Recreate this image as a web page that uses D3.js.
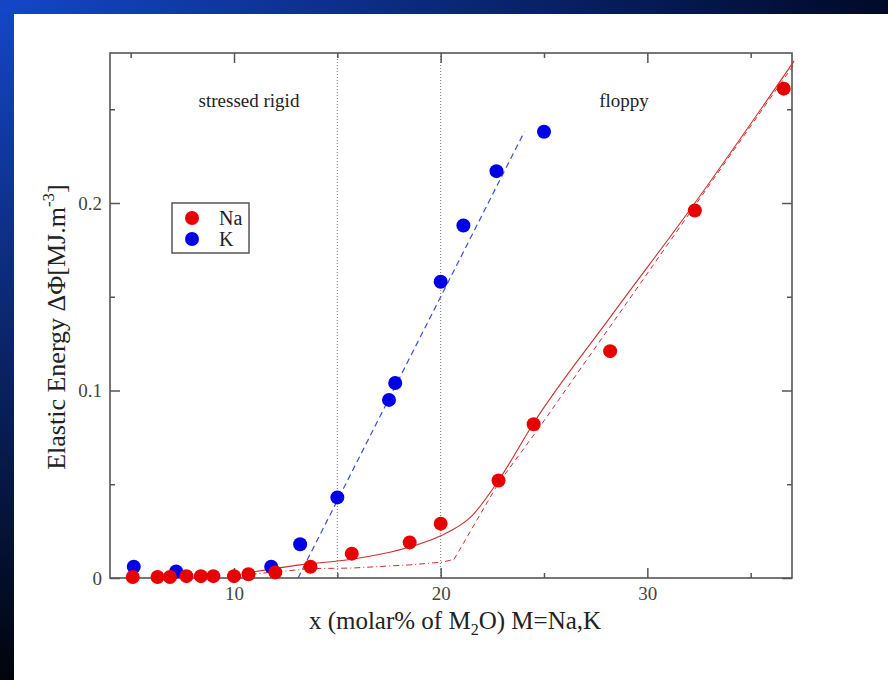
<!DOCTYPE html>
<html><head><meta charset="utf-8">
<script src="https://cdn.jsdelivr.net/npm/d3@7"></script>
<style>html,body{margin:0;padding:0;background:#fff;}svg{display:block;}</style>
</head><body>
<script>
// ---- data ----
const naX = [5.1, 6.3, 6.9, 7.7, 8.4, 9.0, 10.0, 10.7, 12.0, 13.7, 15.7, 18.5, 20.0, 22.8, 24.5, 28.2, 32.3, 36.6];
const naY = [0.0005, 0.0005, 0.0005, 0.001, 0.001, 0.001, 0.001, 0.002, 0.003, 0.006, 0.013, 0.019, 0.029, 0.052, 0.082, 0.121, 0.196, 0.261];
const kX = [5.15, 7.2, 11.8, 13.2, 15.0, 17.5, 17.8, 20.0, 21.1, 22.7, 25.0];
const kY = [0.006, 0.0035, 0.006, 0.018, 0.043, 0.095, 0.104, 0.158, 0.188, 0.217, 0.238];
// fitted curves
const naFitX = [10.8, 13.2, 15.7, 18.5, 20.0, 21.5, 22.8, 24.5, 28.2, 32.3, 37.1];
const naFitY = [0.003, 0.007, 0.010, 0.0165, 0.0225, 0.033, 0.052, 0.0827, 0.139, 0.2, 0.2757];
const naLowX = [10.8, 13.7, 15.7, 18.5, 20.1, 20.65];
const naLowY = [0.002, 0.005, 0.0053, 0.007, 0.0085, 0.010];
const naDashX = [20.65, 22.79, 24.8, 37.1];
const naDashY = [0.010, 0.0505, 0.0807, 0.274];
const kFitX = [13.1, 24.05];
const kFitY = [0.0, 0.238];
const boundaries = [15, 20];
const xTicks = [10, 20, 30];
const xMinor = [5, 15, 25, 35];
const yTicks = [0, 0.1, 0.2];
const yMinor = [0.05, 0.15, 0.25];
const seriesNames = ["Na", "K"];
const seriesColors = ["#e80000", "#0000e8"];

const W = 888, H = 680;
const svg = d3.select("body").append("svg").attr("width", W).attr("height", H);
const defs = svg.append("defs");
const gTop = defs.append("linearGradient").attr("id", "gTop").attr("x1", 0).attr("x2", 1).attr("y1", 0).attr("y2", 0);
gTop.append("stop").attr("offset", 0).attr("stop-color", "#1446c8");
gTop.append("stop").attr("offset", 1).attr("stop-color", "#000a28");
const gLeft = defs.append("linearGradient").attr("id", "gLeft").attr("x1", 0).attr("x2", 0).attr("y1", 0).attr("y2", 1);
gLeft.append("stop").attr("offset", 0).attr("stop-color", "#1446c8");
gLeft.append("stop").attr("offset", 1).attr("stop-color", "#00040c");
svg.append("rect").attr("width", W).attr("height", H).attr("fill", "#fff");
svg.append("rect").attr("x", 0).attr("y", 0).attr("width", 14).attr("height", H).attr("fill", "url(#gLeft)");
svg.append("rect").attr("x", 0).attr("y", 0).attr("width", W).attr("height", 14).attr("fill", "url(#gTop)");

const L = 110, R = 792, T = 53, B = 578;
const x = d3.scaleLinear().domain([4, 37]).range([L, R]);
const y = d3.scaleLinear().domain([0, 0.28]).range([B, T]);
const serif = "'Liberation Serif','DejaVu Serif',serif";
const axisColor = "#555";

// boundary lines
svg.append("g").selectAll("line").data(boundaries).join("line")
  .attr("x1", d => x(d)).attr("x2", d => x(d)).attr("y1", T).attr("y2", B)
  .attr("stroke", "#777").attr("stroke-width", 1).attr("stroke-dasharray", "1,2");

// frame
svg.append("rect").attr("x", L).attr("y", T).attr("width", R - L).attr("height", B - T)
  .attr("fill", "none").attr("stroke", axisColor).attr("stroke-width", 1.6);

// axes with inward ticks
function styleAxis(g) {
  g.select(".domain").remove();
  g.selectAll(".tick line").attr("stroke", axisColor).attr("stroke-width", 1.5);
  g.selectAll(".tick text").attr("fill", "#444").attr("font-family", serif).attr("font-size", 19);
}
svg.append("g").attr("transform", `translate(0,${B})`)
  .call(d3.axisBottom(x).tickValues(xTicks).tickSizeInner(-10).tickPadding(9).tickFormat(d3.format("d"))).call(styleAxis);
svg.append("g").attr("transform", `translate(0,${B})`)
  .call(d3.axisBottom(x).tickValues(xMinor).tickSizeInner(-5).tickFormat("")).call(styleAxis);
svg.append("g").attr("transform", `translate(0,${T})`)
  .call(d3.axisTop(x).tickValues(xTicks).tickSizeInner(-10).tickFormat("")).call(styleAxis);
svg.append("g").attr("transform", `translate(0,${T})`)
  .call(d3.axisTop(x).tickValues(xMinor).tickSizeInner(-5).tickFormat("")).call(styleAxis);
svg.append("g").attr("transform", `translate(${L},0)`)
  .call(d3.axisLeft(y).tickValues(yTicks).tickSizeInner(-10).tickPadding(8).tickFormat(d => d === 0 ? "0" : d3.format(".1f")(d))).call(styleAxis);
svg.append("g").attr("transform", `translate(${L},0)`)
  .call(d3.axisLeft(y).tickValues(yMinor).tickSizeInner(-5).tickFormat("")).call(styleAxis);
svg.append("g").attr("transform", `translate(${R},0)`)
  .call(d3.axisRight(y).tickValues(yTicks).tickSizeInner(-10).tickFormat("")).call(styleAxis);
svg.append("g").attr("transform", `translate(${R},0)`)
  .call(d3.axisRight(y).tickValues(yMinor).tickSizeInner(-5).tickFormat("")).call(styleAxis);

// curves
const line = d3.line().x(d => x(d[0])).y(d => y(d[1]));
const zip = (a, b) => a.map((v, i) => [v, b[i]]);
svg.append("path").datum(zip(kFitX, kFitY)).attr("d", line)
  .attr("fill", "none").attr("stroke", "#3a4fd0").attr("stroke-width", 1.2).attr("stroke-dasharray", "6,4");
svg.append("path").datum(zip(naLowX, naLowY)).attr("d", line)
  .attr("fill", "none").attr("stroke", "#c83030").attr("stroke-width", 1).attr("stroke-dasharray", "6,3,1,3");
svg.append("path").datum(zip(naDashX, naDashY)).attr("d", line)
  .attr("fill", "none").attr("stroke", "#c83030").attr("stroke-width", 1).attr("stroke-dasharray", "5,4");
svg.append("path").datum(zip(naFitX, naFitY)).attr("d", d3.line().x(d => x(d[0])).y(d => y(d[1])).curve(d3.curveMonotoneX))
  .attr("fill", "none").attr("stroke", "#c83030").attr("stroke-width", 1.1);

// points
svg.append("g").selectAll("circle").data(zip(kX, kY)).join("circle")
  .attr("cx", d => x(d[0])).attr("cy", d => y(d[1])).attr("r", 7).attr("fill", seriesColors[1]);
svg.append("g").selectAll("circle").data(zip(naX, naY)).join("circle")
  .attr("cx", d => x(d[0])).attr("cy", d => y(d[1])).attr("r", 7).attr("fill", seriesColors[0]);

// region labels
svg.append("text").attr("x", 249).attr("y", 107).attr("text-anchor", "middle")
  .attr("font-family", serif).attr("font-size", 19).attr("fill", "#222").text("stressed rigid");
svg.append("text").attr("x", 624).attr("y", 107).attr("text-anchor", "middle")
  .attr("font-family", serif).attr("font-size", 19).attr("fill", "#222").text("floppy");

// legend
const lg = svg.append("g");
lg.append("rect").attr("x", 172).attr("y", 203).attr("width", 77).attr("height", 50)
  .attr("fill", "#fff").attr("stroke", axisColor).attr("stroke-width", 1.5);
seriesNames.forEach((n, i) => {
  lg.append("circle").attr("cx", 192).attr("cy", 218 + i * 21).attr("r", 7).attr("fill", seriesColors[i]);
  lg.append("text").attr("x", 219).attr("y", 225 + i * 21).attr("font-family", serif).attr("font-size", 20)
    .attr("fill", "#222").text(n);
});

// axis titles
const xt = svg.append("text").attr("x", 455).attr("y", 629).attr("text-anchor", "middle")
  .attr("font-family", serif).attr("font-size", 25).attr("fill", "#222");
xt.append("tspan").text("x (molar% of M");
xt.append("tspan").attr("font-size", 16).attr("dy", 6).text("2");
xt.append("tspan").attr("dy", -6).text("O) M=Na,K");

const yt = svg.append("text").attr("transform", "translate(65,327) rotate(-90)").attr("text-anchor", "middle")
  .attr("font-family", serif).attr("font-size", 26).attr("fill", "#222");
yt.append("tspan").text("Elastic Energy ΔΦ[MJ.m");
yt.append("tspan").attr("font-size", 17).attr("dy", -11).text("-3");
yt.append("tspan").attr("dy", 11).text("]");
</script>
</body></html>
